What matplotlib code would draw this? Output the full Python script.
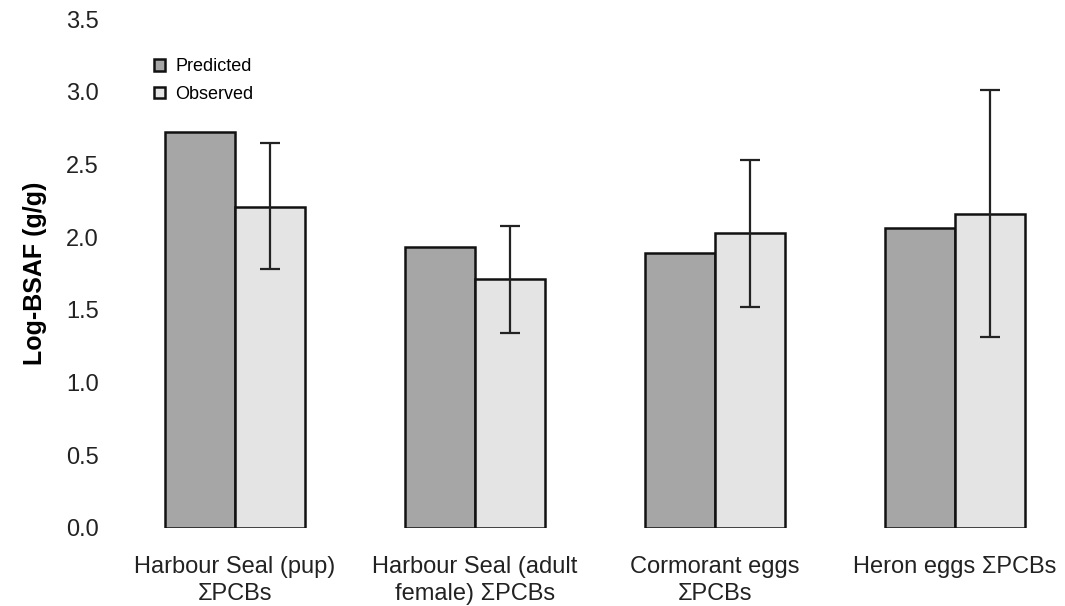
import matplotlib
matplotlib.use("Agg")
import matplotlib.pyplot as plt
import numpy as np

categories = ["Harbour Seal (pup)\nΣPCBs", "Harbour Seal (adult\nfemale) ΣPCBs",
              "Cormorant eggs\nΣPCBs", "Heron eggs ΣPCBs"]
predicted = [2.72, 1.93, 1.89, 2.06]
observed = [2.21, 1.71, 2.03, 2.16]
obs_low = [1.78, 1.34, 1.52, 1.31]
obs_high = [2.65, 2.08, 2.53, 3.01]
yticks = [0.0, 0.5, 1.0, 1.5, 2.0, 2.5, 3.0, 3.5]

plt.rcParams['font.family'] = ['Liberation Sans', 'DejaVu Sans']

fig = plt.figure(figsize=(10.65, 6.06), dpi=100)
ax = fig.add_axes([114 / 1065, 78 / 606, (1060 - 114) / 1065, (528 - 19) / 606])

x = np.arange(len(categories))
w = 0.292
ax.bar(x - w / 2, predicted, w, color="#a6a6a6", edgecolor="#111111", linewidth=1.8,
       label="Predicted", zorder=2)
ax.bar(x + w / 2, observed, w, color="#e4e4e4", edgecolor="#111111", linewidth=1.8,
       label="Observed", zorder=2)
obs = np.array(observed)
yerr = np.vstack([obs - np.array(obs_low), np.array(obs_high) - obs])
ax.errorbar(x + w / 2, obs, yerr=yerr, fmt="none", ecolor="#222222", elinewidth=1.6,
            capsize=7, capthick=1.6, zorder=3)

ax.set_xlim(-0.504, 3.4375)
ax.set_ylim(0, 3.5)
ax.set_yticks(yticks)
ax.set_yticklabels([f"{v:.1f}" for v in yticks], fontsize=17, color="#222222")
ax.set_xticks(x)
ax.set_xticklabels(categories, fontsize=17, color="#222222", linespacing=1.3)
ax.tick_params(axis="x", length=0, pad=20)
ax.tick_params(axis="y", length=0, pad=11)
for s in ax.spines.values():
    s.set_visible(False)
ax.set_ylabel("Log-BSAF (g/g)", fontsize=18, fontweight="bold", labelpad=14)

leg = ax.legend(loc="upper left", bbox_to_anchor=(0.025, 0.955), frameon=False,
                fontsize=13, handlelength=0.6, handleheight=0.6, handletextpad=0.6,
                labelspacing=0.6)

fig.savefig("out.png", dpi=100)
